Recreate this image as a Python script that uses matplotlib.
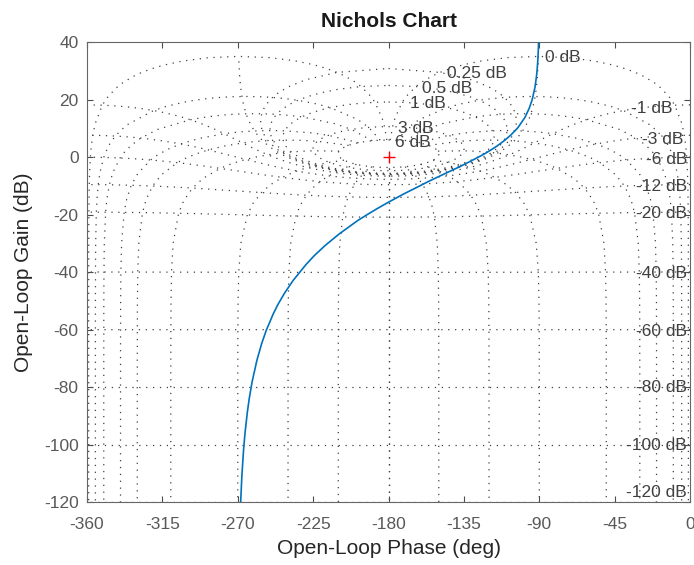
import numpy as np
import matplotlib.pyplot as plt

plt.rcParams['font.family'] = ['Liberation Sans', 'DejaVu Sans']
plt.rcParams['axes.unicode_minus'] = False

# open-loop response (phase in deg, gain in dB)
phase_deg = [-90.43, -90.60, -90.86, -91.29, -91.72, -92.58, -94.29, -96.01, -98.57, -102.82,
             -107.02, -111.17, -115.23, -119.22, -123.11, -126.91, -130.60, -137.66, -144.28,
             -150.46, -156.22, -161.57, -171.15, -180.00, -186.65, -192.94, -198.43, -209.54,
             -217.88, -224.31, -229.39, -236.89, -242.11, -245.92, -248.83, -252.98, -255.78,
             -258.60, -261.43, -263.14, -264.28, -265.71, -266.56, -267.54, -268.28]
gain_db = [40.0, 37.1, 34.0, 30.5, 28.0, 24.4, 20.0, 17.1, 13.9, 10.3,
           7.75, 5.7, 3.95, 2.45, 1.1, -0.1, -1.2, -3.3, -5.1,
           -6.8, -8.4, -10.0, -12.8, -15.6, -17.8, -20.0, -22.0, -26.7,
           -30.7, -34.2, -37.4, -42.8, -47.3, -51.1, -54.5, -60.2, -64.9,
           -70.7, -78.1, -83.9, -88.7, -96.1, -102.0, -110.7, -120.0]

# Nichols chart grid: closed-loop gain lines (dB) and closed-loop phase lines (deg)
cl_gains = [6, 3, 1, 0.5, 0.25, 0, -1, -3, -6, -12, -20, -40, -60, -80, -100, -120]
cl_gain_pts = [6, 3, 2, 1, .75, .5, .4, .3, .25, .2, .15, .1, .05, 0, -.05, -.1, -.15, -.2,
               -.25, -.3, -.4, -.5, -.75, -1, -2, -3, -4, -5, -6, -9, -12, -16, -20, -30,
               -40, -50, -60, -70, -80, -90, -100, -110, -120]
cl_phases = [1, 5, 10, 20, 30, 50, 90, 120, 150, 180]

label_text = ['6 dB', '3 dB', '1 dB', '0.5 dB', '0.25 dB', '0 dB',
              '-1 dB', '-3 dB', '-6 dB', '-12 dB', '-20 dB', '-40 dB',
              '-60 dB', '-80 dB', '-100 dB', '-120 dB']


def open_loop(T):
    L = T / (1 - T)
    g = 20 * np.log10(np.abs(L))
    p = np.mod(np.degrees(np.angle(L)), 360) - 360
    return p, g


fig = plt.figure(figsize=(6.94, 5.65), dpi=100)
ax = fig.add_axes([0.1254, 0.1115, 0.8689, 0.8133])

grid_kw = dict(color='0.25', lw=0.9, linestyle=(0, (1, 4.5)), zorder=1)

# isogain lines
for gdb in cl_gains:
    M = 10 ** (gdb / 20)
    if gdb == 0:
        th = -np.arange(1, 360, 1.0)
    else:
        th = np.concatenate([[-1e-6], -np.arange(1, 360, 1.0), [-360 + 1e-6]])
    p, g = open_loop(M * np.exp(1j * np.radians(th)))
    ax.plot(p, g, **grid_kw)

# isophase lines (mirrored about -180)
r = 10 ** (np.array(cl_gain_pts) / 20)
for ph in cl_phases:
    p, g = open_loop(r * np.exp(1j * np.radians(-ph + 1e-6)))
    ax.plot(p, g, **grid_kw)
    ax.plot(-360 - p, g, **grid_kw)

# grid labels
lab_kw = dict(fontsize=12.5, color='#404040', va='center', zorder=3)
left_pos = [(-176.1, 5.1), (-174.2, 10.1), (-167.2, 18.8), (-160.2, 24.1), (-145.3, 29.3), (-86.6, 34.6)]
right_pos = [(-10.3, 17.1), (-4.2, 6.3), (-1.8, -0.6), (-1.8, -10.2), (-1.8, -19.4), (-1.8, -40.3),
             (-1.8, -60.7), (-1.8, -80.3), (-1.8, -100.2), (-1.8, -116.8)]
for txt, (x, y) in zip(label_text[:6], left_pos):
    ax.text(x, y, txt, ha='left', **lab_kw)
for txt, (x, y) in zip(label_text[6:], right_pos):
    ax.text(x, y, txt, ha='right', **lab_kw)

ax.plot(phase_deg, gain_db, color='#0072BD', lw=1.2, zorder=4)
ax.plot(-180, 0, marker='+', color='red', ms=9, mew=1.0, zorder=5)

ax.set_xlim(-360, 0)
ax.set_ylim(-120, 40)
ax.set_xticks(np.arange(-360, 1, 45))
ax.set_yticks(np.arange(-120, 41, 20))
ax.tick_params(direction='in', top=True, right=True, length=4, width=0.8,
               color='0.3', labelcolor='0.35', labelsize=12.5)
ax.tick_params(axis='x', pad=11)
ax.tick_params(axis='y', pad=6)
for s in ax.spines.values():
    s.set_color('0.4')
    s.set_linewidth(0.8)

ax.set_xlabel('Open-Loop Phase (deg)', fontsize=15, color='#262626', labelpad=5)
ax.set_ylabel('Open-Loop Gain (dB)', fontsize=15, color='#262626', labelpad=8)
ax.set_title('Nichols Chart', fontsize=15, fontweight='bold', color='#1a1a1a', pad=11)

fig.savefig('out.png', dpi=100)
